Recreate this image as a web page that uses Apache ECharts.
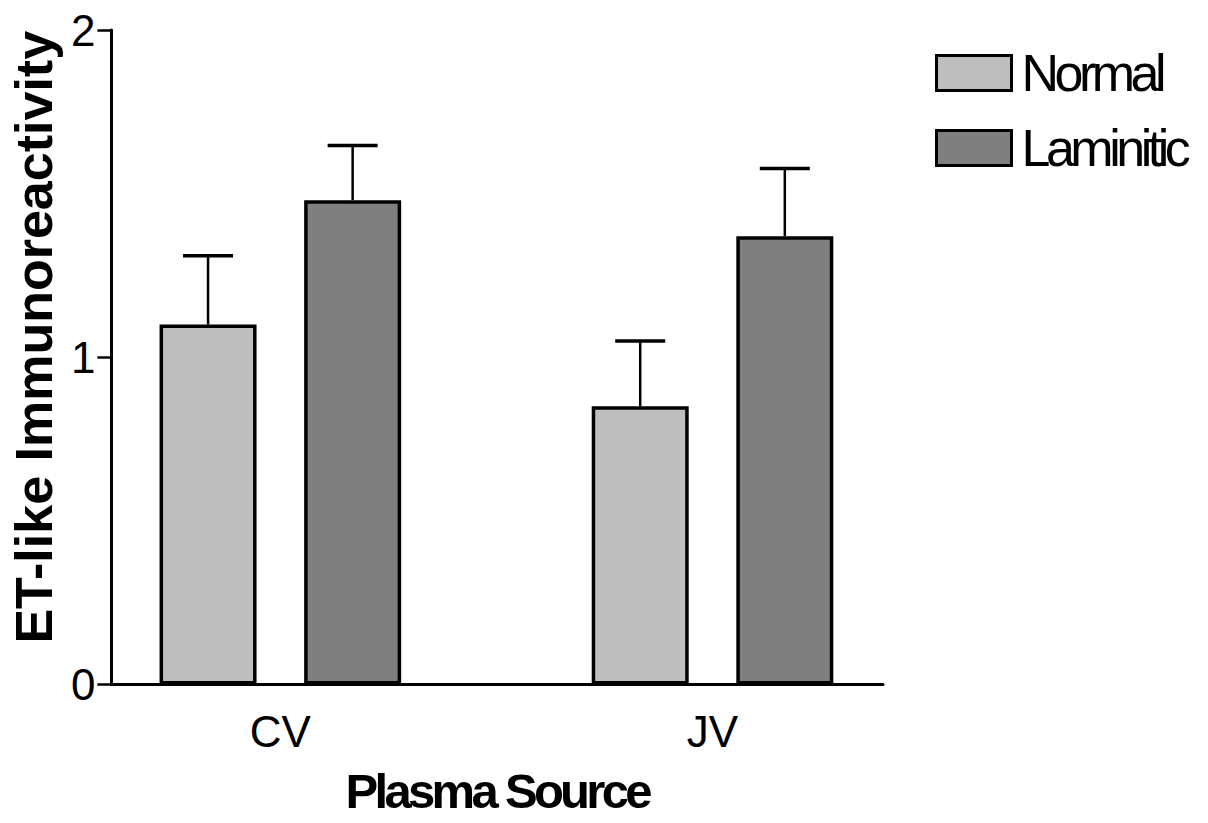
<!DOCTYPE html>
<html>
<head>
<meta charset="utf-8">
<script src="https://cdn.jsdelivr.net/npm/echarts@6/dist/echarts.min.js"></script>
<style>
  html, body { margin: 0; padding: 0; background: #ffffff; }
  #chart { width: 1208px; height: 823px; }
</style>
</head>
<body>
<div id="chart"></div>
<script>
// Plasma sources on the x axis
const categories = ['CV', 'JV'];
// Group means and standard errors
const normalMean = [1.10, 0.85];
const normalSem = [0.21, 0.20];
const laminiticMean = [1.48, 1.37];
const laminiticSem = [0.167, 0.207];
const seriesNames = ['Normal', 'Laminitic'];
const yTicks = [0, 1, 2];
const xTitle = 'Plasma Source';
const yTitle = 'ET-like Immunoreactivity';

// Bars within a source sit this far either side of the source position
const PAIR_OFFSET = 0.1673;
const FONT = "'Liberation Sans', Arial, sans-serif";

function barData(means, shift) {
  return means.map((m, i) => [i + shift, m]);
}
function errData(means, sems, shift) {
  return means.map((m, i) => [i + shift, m, sems[i]]);
}

// Upper error whisker with a flat cap
function renderErr(params, api) {
  const x = api.value(0), m = api.value(1), e = api.value(2);
  const base = api.coord([x, m]);
  const top = api.coord([x, m + e]);
  const half = 25;
  return {
    type: 'group',
    children: [
      { type: 'line', shape: { x1: base[0], y1: base[1], x2: top[0], y2: top[1] },
        style: { stroke: '#000', lineWidth: 2.5 } },
      { type: 'line', shape: { x1: top[0] - half, y1: top[1], x2: top[0] + half, y2: top[1] },
        style: { stroke: '#000', lineWidth: 3.5 } }
    ]
  };
}

const chart = echarts.init(document.getElementById('chart'), null, { renderer: 'svg' });

// Legend entries and the x title are set in a tightly spaced face
const tightText = { 'Normal': '-4.5px', 'Laminitic': '-4.5px' };
tightText[xTitle] = '-3.7px';
function tightenText() {
  document.querySelectorAll('#chart text').forEach(t => {
    const s = tightText[t.textContent.trim()];
    if (s) t.style.letterSpacing = s;
  });
}
chart.on('finished', tightenText);

chart.setOption({
  backgroundColor: '#ffffff',
  animation: false,
  grid: { left: 104, right: 325, top: 30, bottom: 138.5, containLabel: false },
  legend: {
    orient: 'vertical',
    left: 935,
    top: 47,
    padding: 0,
    itemGap: 23,
    itemWidth: 75,
    itemHeight: 35,
    icon: 'rect',
    data: seriesNames,
    itemStyle: { borderColor: '#000', borderWidth: 3 },
    textStyle: { fontFamily: FONT, fontSize: 52, color: '#000', padding: [0, 0, 0, 5] }
  },
  xAxis: {
    type: 'value',
    min: -0.391,
    max: 1.3945,
    splitLine: { show: false },
    axisLine: { show: true, onZero: false, lineStyle: { color: '#000', width: 3 } },
    axisTick: { show: false },
    axisLabel: {
      customValues: categories.map((c, i) => i),
      formatter: v => categories[Math.round(v)],
      fontFamily: FONT, fontSize: 44, color: '#000', margin: 25
    },
    name: xTitle,
    nameLocation: 'middle',
    nameGap: 82,
    nameTextStyle: { fontFamily: FONT, fontWeight: 'bold', fontSize: 49, color: '#000' }
  },
  yAxis: {
    type: 'value',
    min: 0,
    max: 2,
    interval: 1,
    splitLine: { show: false },
    axisLine: { show: true, onZero: false, lineStyle: { color: '#000', width: 3 } },
    axisTick: { show: true, inside: false, length: 14, lineStyle: { color: '#000', width: 2.5 } },
    axisLabel: {
      fontFamily: FONT, fontSize: 44, color: '#000', margin: 16,
      formatter: v => String(yTicks[yTicks.indexOf(v)])
    },
    name: yTitle,
    nameLocation: 'middle',
    nameRotate: 90,
    nameGap: 38,
    nameTextStyle: { fontFamily: FONT, fontWeight: 'bold', fontSize: 52, color: '#000', padding: [0, 0, 0, 40] }
  },
  series: [
    {
      name: seriesNames[0],
      type: 'bar',
      barWidth: 97,
      barGap: '-100%',
      data: barData(normalMean, -PAIR_OFFSET),
      itemStyle: { color: '#bebebe', borderColor: '#000', borderWidth: 3.5 }
    },
    {
      name: seriesNames[1],
      type: 'bar',
      barWidth: 97,
      barGap: '-100%',
      data: barData(laminiticMean, PAIR_OFFSET),
      itemStyle: { color: '#7f7f7f', borderColor: '#000', borderWidth: 3.5 }
    },
    {
      type: 'custom',
      renderItem: renderErr,
      data: errData(normalMean, normalSem, -PAIR_OFFSET),
      z: 1
    },
    {
      type: 'custom',
      renderItem: renderErr,
      data: errData(laminiticMean, laminiticSem, PAIR_OFFSET),
      z: 1
    }
  ]
});
tightenText();
</script>
</body>
</html>
